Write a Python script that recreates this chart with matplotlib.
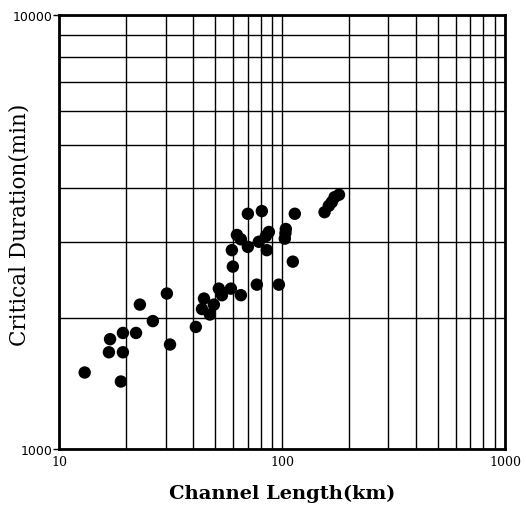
import matplotlib
matplotlib.use("Agg")
import matplotlib.pyplot as plt
from matplotlib.ticker import FixedLocator, NullFormatter

# channel length (km) and critical duration (min) for each basin
length_km = [13.0, 16.9, 16.7, 18.9, 19.3, 19.3, 22.1, 23.0, 26.3, 30.4,
             31.4, 41.0, 43.7, 44.6, 47.4, 49.4, 52.0, 53.7, 58.9, 65.3,
             77.0, 96.7, 60.1, 59.5, 62.7, 65.3, 70.2, 78.6, 85.4, 84.5,
             87.2, 70.2, 81.1, 103.9, 102.8, 103.5, 111.7, 114.0, 155.0, 162.0,
             167.0, 172.0, 180.0]
duration_min = [1500, 1790, 1670, 1430, 1670, 1850, 1850, 2150, 1970, 2280,
                1740, 1910, 2100, 2220, 2040, 2150, 2340, 2260, 2340, 2260,
                2390, 2390, 2630, 2870, 3110, 3040, 2920, 3000, 2870, 3090,
                3160, 3480, 3530, 3210, 3050, 3140, 2700, 3480, 3510, 3630,
                3700, 3800, 3850]

x_ticks = [10, 100, 1000]
y_ticks = [1000, 10000]

fig = plt.figure(figsize=(5.26, 5.06), dpi=100)
ax = fig.add_axes([0.1127, 0.1107, 0.8473, 0.8583])
ax.set_xscale("log")
ax.set_yscale("log")
ax.set_xlim(10, 1000)
ax.set_ylim(1000, 10000)

ax.scatter(length_km, duration_min, s=80, color="black", edgecolors="none", zorder=3)

ax.xaxis.set_major_locator(FixedLocator(x_ticks))
ax.yaxis.set_major_locator(FixedLocator(y_ticks))
ax.set_xticklabels([str(v) for v in x_ticks], fontfamily="DejaVu Serif", fontsize=9)
ax.set_yticklabels([str(v) for v in y_ticks], fontfamily="DejaVu Sans", fontsize=9)
ax.xaxis.set_minor_formatter(NullFormatter())
ax.yaxis.set_minor_formatter(NullFormatter())
ax.tick_params(axis="x", which="both", length=0, pad=4)
ax.tick_params(axis="y", which="major", length=4, width=1, pad=1)
ax.tick_params(axis="y", which="minor", length=0)

ax.grid(True, which="both", color="black", linewidth=1.0)
for s in ax.spines.values():
    s.set_linewidth(2)

ax.set_xlabel("Channel Length(km)", fontfamily="DejaVu Serif", fontweight="bold",
              fontsize=14, labelpad=12)
fig.text(20 / 526, 1 - 225 / 506, "Critical Duration(min)", rotation=90,
         ha="center", va="center", fontfamily="DejaVu Serif", fontsize=15.5)

fig.savefig("out.png", dpi=100)
